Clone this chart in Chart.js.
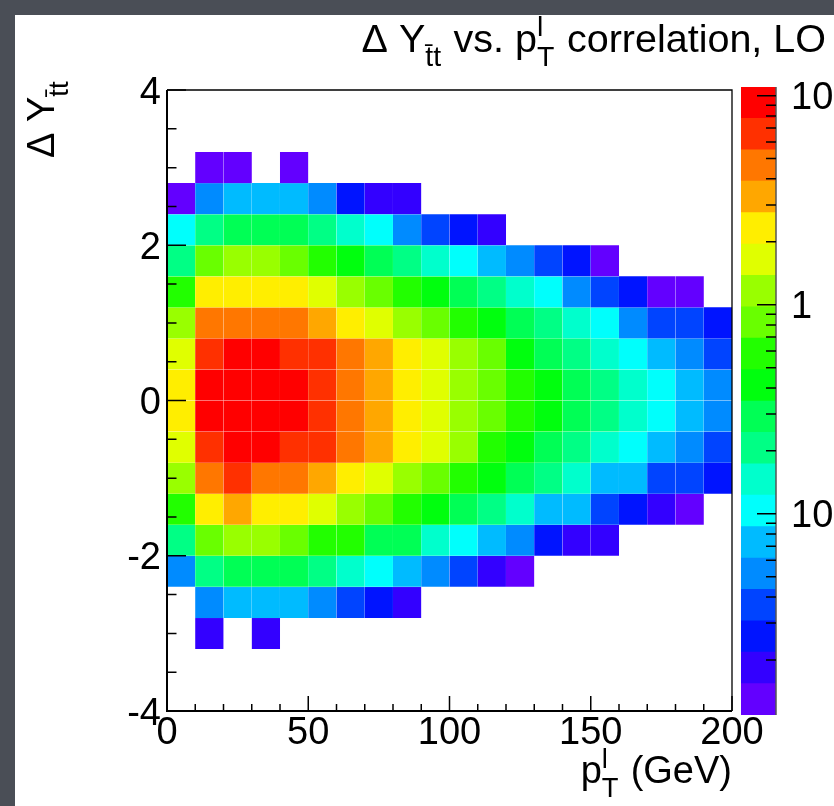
<!DOCTYPE html>
<html>
<head>
<meta charset="utf-8">
<script src="https://cdn.jsdelivr.net/npm/chart.js@4.4.1/dist/chart.umd.min.js"></script>
<style>
  html, body { margin: 0; padding: 0; }
  body { width: 834px; height: 806px; overflow: hidden; background: #4a4e56; position: relative; }
  #sheet { position: absolute; left: 15px; top: 15px; right: 0; bottom: 0; background: #fff; }
  canvas { position: absolute; top: 0; }
  #hist { left: 0; }
  #palette { left: 700px; }
</style>
</head>
<body>
<div id="sheet"></div>
<canvas id="hist" width="834" height="806"></canvas>
<canvas id="palette" width="134" height="806"></canvas>
<script>
// pT of the lepton, 10 GeV bins (bin centres)
const ptCentres = [5, 15, 25, 35, 45, 55, 65, 75, 85, 95, 105, 115, 125, 135, 145, 155, 165, 175, 185, 195];
const ptWidth = 10;
// Delta Y(ttbar), 0.4 wide bins (lower edges)
const dyLow = [-4.0, -3.6, -3.2, -2.8, -2.4, -2.0, -1.6, -1.2, -0.8, -0.4,
                0.0,  0.4,  0.8,  1.2,  1.6,  2.0,  2.4,  2.8,  3.2,  3.6];
const dyWidth = 0.4;

// bin contents, one row per Delta Y bin, top row (3.6..4.0) first.
// null = empty bin, missing entries at the end of a row are empty too
const binContents = [
  [],
  [],
  [null, 0.013, 0.013, null, 0.013],
  [0.013, 0.052, 0.073, 0.073, 0.073, 0.052, 0.026, 0.018, 0.018],
  [0.10, 0.21, 0.29, 0.29, 0.29, 0.21, 0.15, 0.10, 0.052, 0.037, 0.026, 0.018],
  [0.21, 0.83, 1.2, 1.2, 0.83, 0.58, 0.41, 0.29, 0.21, 0.15, 0.10, 0.073, 0.052, 0.037, 0.026, 0.013],
  [0.58, 2.3, 2.3, 2.3, 2.3, 1.6, 1.2, 0.83, 0.58, 0.41, 0.29, 0.21, 0.15, 0.10, 0.052, 0.037, 0.026, 0.013, 0.013],
  [1.2, 4.7, 4.7, 4.7, 4.7, 3.3, 2.3, 1.6, 1.2, 0.83, 0.58, 0.41, 0.29, 0.21, 0.15, 0.10, 0.052, 0.037, 0.037, 0.026],
  [1.6, 6.6, 9.3, 9.3, 6.6, 6.6, 4.7, 3.3, 2.3, 1.6, 1.2, 0.83, 0.41, 0.29, 0.21, 0.15, 0.10, 0.073, 0.052, 0.037],
  [2.3, 9.3, 9.3, 9.3, 9.3, 6.6, 4.7, 3.3, 2.3, 1.6, 1.2, 0.83, 0.58, 0.41, 0.29, 0.21, 0.15, 0.10, 0.073, 0.052],
  [2.3, 9.3, 9.3, 9.3, 9.3, 6.6, 4.7, 3.3, 2.3, 1.6, 1.2, 0.83, 0.58, 0.41, 0.29, 0.21, 0.15, 0.10, 0.073, 0.052],
  [1.6, 6.6, 9.3, 9.3, 6.6, 6.6, 4.7, 3.3, 2.3, 1.6, 1.2, 0.58, 0.41, 0.29, 0.21, 0.15, 0.10, 0.073, 0.052, 0.037],
  [1.2, 4.7, 6.6, 4.7, 4.7, 3.3, 2.3, 1.6, 1.2, 0.83, 0.58, 0.41, 0.29, 0.21, 0.15, 0.073, 0.073, 0.037, 0.037, 0.026],
  [0.58, 2.3, 3.3, 2.3, 2.3, 1.6, 1.2, 0.83, 0.58, 0.41, 0.29, 0.21, 0.15, 0.073, 0.073, 0.037, 0.026, 0.018, 0.013],
  [0.21, 0.83, 1.2, 1.2, 0.83, 0.58, 0.58, 0.29, 0.29, 0.15, 0.10, 0.073, 0.052, 0.026, 0.018, 0.018],
  [0.052, 0.21, 0.29, 0.29, 0.29, 0.21, 0.15, 0.10, 0.073, 0.052, 0.037, 0.018, 0.013],
  [null, 0.052, 0.073, 0.073, 0.073, 0.052, 0.037, 0.026, 0.018],
  [null, 0.018, null, 0.018],
  [],
  []
];

const xTicks = [0, 50, 100, 150, 200];
const yTicks = [-4, -2, 0, 2, 4];
const zTicks = [0.1, 1, 10];
const zRange = [0.0109, 11.0];

// 20 contour colours, violet -> red
const palette = ['#6300ff', '#3300ff', '#0014ff', '#0044ff', '#008bff', '#00bbff', '#00fffc',
                 '#00ffcc', '#00ff85', '#00ff55', '#00ff0e', '#22ff00', '#69ff00', '#99ff00',
                 '#e0ff00', '#ffee00', '#ffa700', '#ff7700', '#ff3000', '#ff0000'];

const logMin = Math.log10(zRange[0]);
const logMax = Math.log10(zRange[1]);

function zColour(v) {
  let k = Math.floor((Math.log10(v) - logMin) / (logMax - logMin) * palette.length);
  k = Math.max(0, Math.min(palette.length - 1, k));
  return palette[k];
}

function font(px) {
  return px + 'px "Liberation Sans", Arial, Helvetica, sans-serif';
}

// draws text with simple sub/superscripts: parts are strings or {sup, sub}
function drawLatex(ctx, parts, x, y, px, align) {
  const small = px * 0.72;
  const widths = parts.map(function (p) {
    if (typeof p === "string") {
      ctx.font = font(px);
      return ctx.measureText(p).width;
    }
    ctx.font = font(small);
    return Math.max(p.sup ? ctx.measureText(p.sup).width : 0,
                    p.sub ? ctx.measureText(p.sub).width : 0) + px * 0.04;
  });
  const total = widths.reduce((s, w) => s + w, 0);
  let cx = x;
  if (align === "right") cx = x - total;
  if (align === "center") cx = x - total / 2;
  ctx.textAlign = "left";
  ctx.textBaseline = "alphabetic";
  ctx.fillStyle = "#000";
  parts.forEach(function (p, i) {
    if (typeof p === "string") {
      ctx.font = font(px);
      ctx.fillText(p, cx, y);
    } else {
      ctx.font = font(small);
      if (p.sup) ctx.fillText(p.sup, cx, y - px * 0.40);
      if (p.sub) ctx.fillText(p.sub, cx, y + px * 0.36);
    }
    cx += widths[i];
  });
}

const labelSize = 38;
const titleSize = 39.5;
const capHalf = labelSize * 0.716 / 2;

// one dataset per Delta Y row, each cell a floating bar
const datasets = binContents.map(function (row, r) {
  const lo = dyLow[dyLow.length - 1 - r];
  const cells = [];
  row.forEach(function (v, i) {
    if (v === null) return;
    cells.push({ x: ptCentres[i], y: [lo, lo + dyWidth], v: v });
  });
  return {
    data: cells,
    backgroundColor: (c) => (c.raw ? zColour(c.raw.v) : "#fff"),
  };
});

// frame, inward ticks and all labels of the main pad
const rootAxes = {
  id: "rootAxes",
  afterDraw(chart) {
    const ctx = chart.ctx;
    const a = chart.chartArea;
    const x = chart.scales.x;
    const y = chart.scales.y;
    ctx.save();
    ctx.strokeStyle = "#000";
    ctx.lineWidth = 1.3;
    ctx.beginPath();
    ctx.moveTo(a.left, a.top);
    ctx.lineTo(a.right, a.top);
    ctx.lineTo(a.right, a.bottom);
    ctx.stroke();
    ctx.lineWidth = 2;
    ctx.beginPath();
    ctx.moveTo(a.left, a.top);
    ctx.lineTo(a.left, a.bottom);
    ctx.lineTo(a.right, a.bottom);
    ctx.stroke();

    ctx.lineWidth = 1.5;
    ctx.beginPath();
    for (let v = x.min; v <= x.max; v += ptWidth) {
      const px = x.getPixelForValue(v);
      const len = xTicks.includes(v) ? 15 : 7;
      ctx.moveTo(px, a.bottom);
      ctx.lineTo(px, a.bottom - len);
    }
    for (let v = y.min; v <= y.max + 1e-9; v += 0.5) {
      const py = y.getPixelForValue(v);
      const len = yTicks.includes(v) ? 19 : 9.5;
      ctx.moveTo(a.left, py);
      ctx.lineTo(a.left + len, py);
    }
    ctx.stroke();

    xTicks.forEach(function (v) {
      drawLatex(ctx, [String(v)], x.getPixelForValue(v), a.bottom + 33, labelSize, "center");
    });
    yTicks.forEach(function (v) {
      drawLatex(ctx, [String(v)], a.left - 6, y.getPixelForValue(v) + capHalf, labelSize, "right");
    });

    // axis titles and pad title
    drawLatex(ctx, ["p", { sup: "l", sub: "T" }, " (GeV)"], a.right, 783, labelSize, "right");
    ctx.save();
    ctx.translate(54, a.top - 10);
    ctx.rotate(-Math.PI / 2);
    drawLatex(ctx, ["\u0394 Y", { sub: "t\u0304t" }], 0, 0, labelSize, "right");
    ctx.restore();
    drawLatex(ctx, ["\u0394 Y", { sub: "t\u0304t" }, " vs. p", { sup: "l", sub: "T" }, " correlation, LO"],
      826, 52, titleSize, "right");
    ctx.restore();
  },
};

new Chart(document.getElementById("hist"), {
  type: "bar",
  data: { datasets: datasets },
  options: {
    responsive: false,
    animation: false,
    events: [],
    layout: { padding: { left: 167, top: 90, right: 102, bottom: 95 } },
    datasets: {
      bar: {
        grouped: false, barPercentage: 1, categoryPercentage: 1,
        borderWidth: 0.3, borderColor: "rgba(255,255,255,0.5)", borderSkipped: false,
      },
    },
    plugins: { legend: { display: false }, tooltip: { enabled: false } },
    scales: {
      x: { type: "linear", min: 0, max: 200, offset: false, display: false, grid: { offset: false } },
      y: { type: "linear", min: -4, max: 4, display: false },
    },
  },
  plugins: [rootAxes],
});

// colour scale: one floating bar per contour level on a log axis
const zEdges = [];
for (let k = 0; k <= palette.length; k++) {
  zEdges.push(Math.pow(10, logMin + (k * (logMax - logMin)) / palette.length));
}

const paletteAxis = {
  id: "paletteAxis",
  afterDraw(chart) {
    const ctx = chart.ctx;
    const a = chart.chartArea;
    const y = chart.scales.y;
    ctx.save();
    ctx.strokeStyle = "#555";
    ctx.lineWidth = 1.5;
    ctx.beginPath();
    ctx.moveTo(a.right, a.top);
    ctx.lineTo(a.right, a.bottom);
    ctx.stroke();
    ctx.strokeStyle = "#000";
    ctx.beginPath();
    for (let d = -2; d <= 1; d++) {
      for (let m = 1; m <= 9; m++) {
        const v = m * Math.pow(10, d);
        if (v < zRange[0] || v > zRange[1]) continue;
        const py = y.getPixelForValue(v);
        ctx.moveTo(a.right, py);
        ctx.lineTo(a.right - (m === 1 ? 19 : 10), py);
      }
    }
    ctx.stroke();
    zTicks.forEach(function (v) {
      const parts = v === 0.1 ? ["10", { sup: "-1" }] : [String(v)];
      drawLatex(ctx, parts, a.right + 15, y.getPixelForValue(v) + capHalf, labelSize, "left");
    });
    ctx.restore();
  },
};

new Chart(document.getElementById("palette"), {
  type: "bar",
  data: {
    labels: [""],
    datasets: palette.map((col, k) => ({
      data: [[zEdges[k], zEdges[k + 1]]],
      backgroundColor: col,
    })),
  },
  options: {
    responsive: false,
    animation: false,
    events: [],
    layout: { padding: { left: 41, top: 87, right: 58, bottom: 91 } },
    datasets: {
      bar: { grouped: false, barPercentage: 1, categoryPercentage: 1, borderWidth: 0 },
    },
    plugins: { legend: { display: false }, tooltip: { enabled: false } },
    scales: {
      x: { display: false },
      y: { type: "logarithmic", min: zRange[0], max: zRange[1], display: false },
    },
  },
  plugins: [paletteAxis],
});
</script>
</body>
</html>
